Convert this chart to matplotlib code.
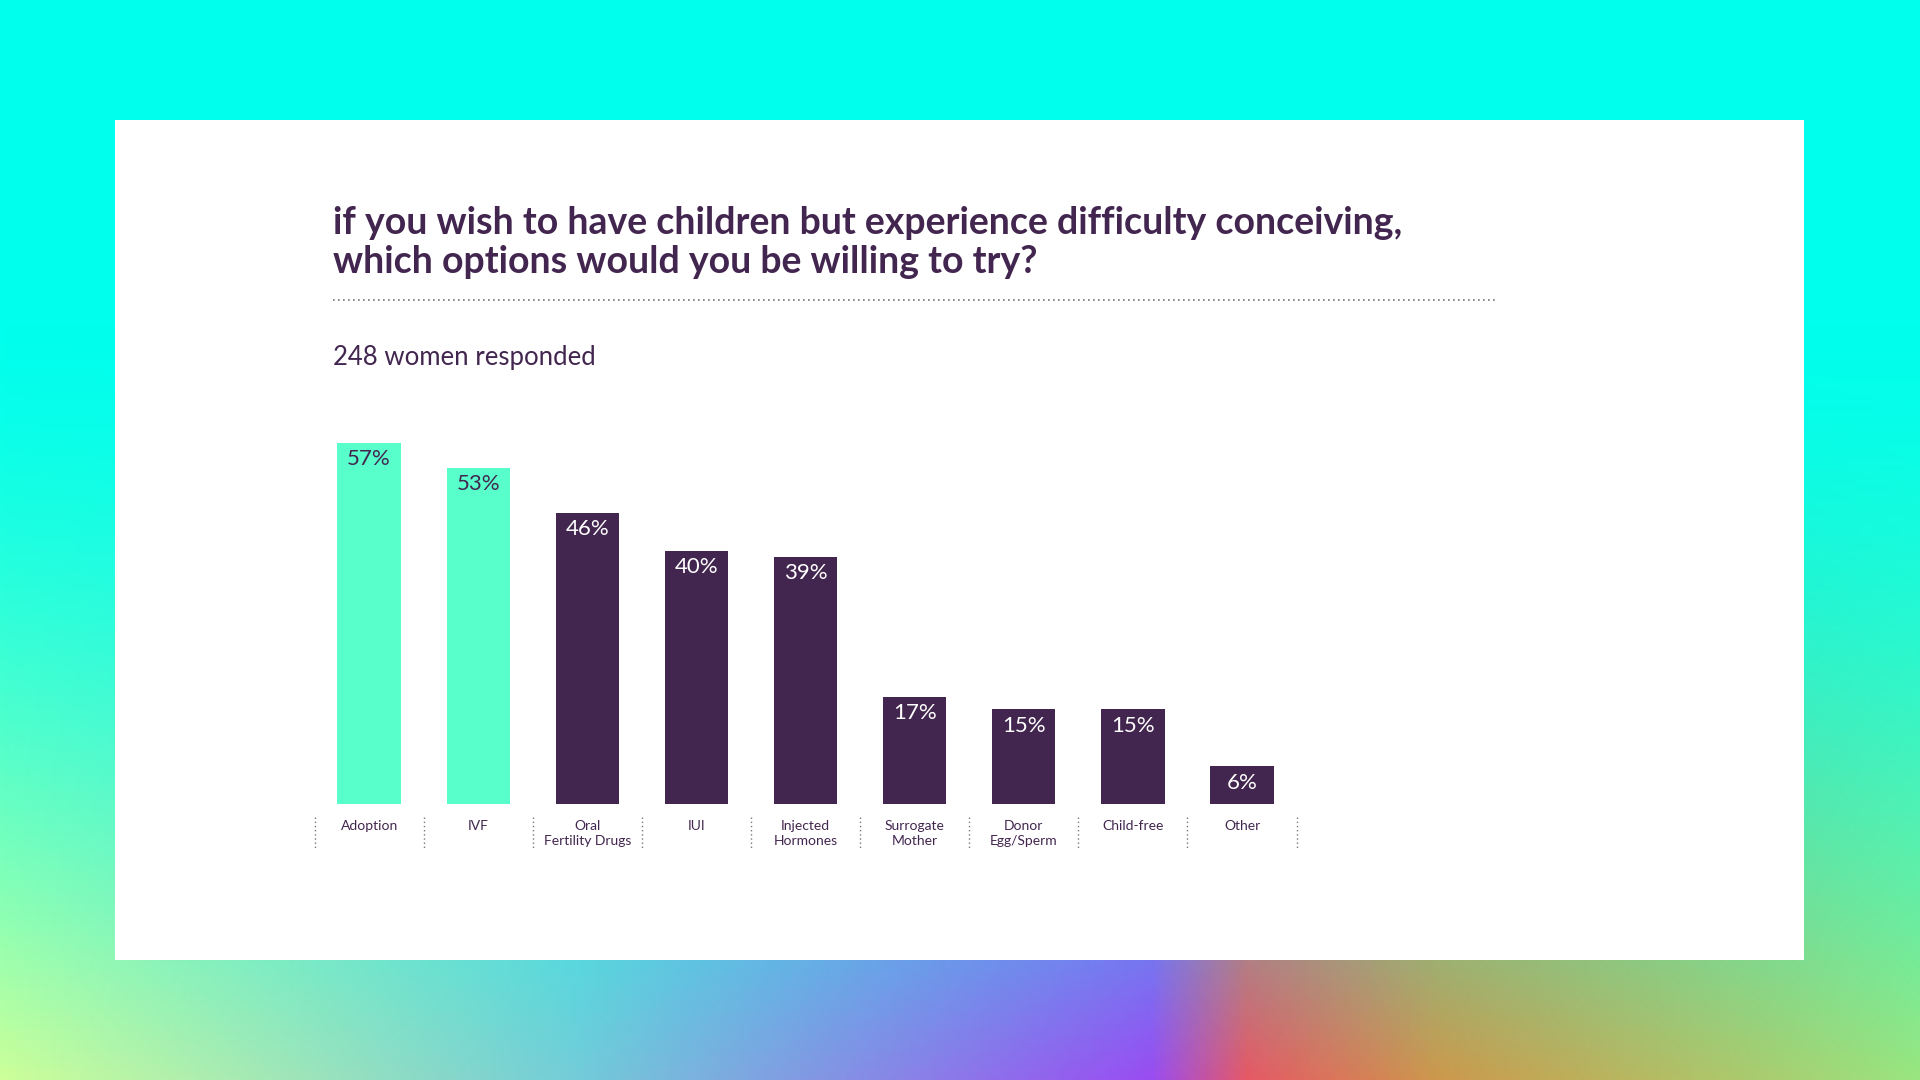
import numpy as np
import matplotlib.pyplot as plt
from matplotlib.patches import Rectangle

categories = ["Adoption", "IVF", "Oral\nFertility Drugs", "IUI", "Injected\nHormones",
              "Surrogate\nMother", "Donor\nEgg/Sperm", "Child-free", "Other"]
values = [57, 53, 46, 40, 39, 17, 15, 15, 6]
highlight = [True, True, False, False, False, False, False, False, False]

TEAL = "#58FFCB"
PURPLE = "#42264F"

plt.rcParams['font.family'] = ['Lato', 'DejaVu Sans']

fig = plt.figure(figsize=(19.2, 10.8), dpi=100)

# gradient background
H, W = 216, 384
yy, xx = np.mgrid[0:H, 0:W] / np.array([H - 1, W - 1])[:, None, None]
top = np.array([0.0, 1.0, 0.93])
stops_x = [0.0, 0.3, 0.6, 0.65, 0.75, 1.0]
stops_c = [(0.8, 1.0, 0.6), (0.45, 0.8, 0.85), (0.6, 0.3, 0.95),
           (0.9, 0.35, 0.4), (0.8, 0.6, 0.3), (0.6, 0.9, 0.5)]
bottom = np.stack([np.interp(xx[0], stops_x, [c[k] for c in stops_c]) for k in range(3)], axis=-1)
t = np.clip((yy - 0.3) / 0.7, 0, 1) ** 1.5
bg = top * (1 - t[..., None]) + bottom[None, :, :] * t[..., None]
bgax = fig.add_axes([0, 0, 1, 1], zorder=0)
bgax.imshow(bg, aspect='auto', extent=[0, 1, 0, 1], origin='upper')
bgax.axis('off')

def fx(x):
    return x / 1568

def fy(y):
    return 1 - y / 882

panel = fig.add_axes([fx(94), fy(784), fx(1473) - fx(94), fy(98) - fy(784)], zorder=1)
panel.set_facecolor('white')
panel.set_xticks([])
panel.set_yticks([])
for sp in panel.spines.values():
    sp.set_visible(False)

fig.text(fx(272), fy(198), "if you wish to have children but experience difficulty conceiving,\nwhich options would you be willing to try?",
         fontsize=27, fontweight='bold', color=PURPLE, va='center', ha='left', linespacing=1.2, zorder=5)
fig.add_artist(plt.Line2D([fx(272), fx(1222)], [fy(245), fy(245)], transform=fig.transFigure,
                          color='#777777', lw=1.2, linestyle=(0, (1, 2)), zorder=5))
fig.text(fx(272), fy(292), "248 women responded", fontsize=18.5, color=PURPLE, va='center', ha='left', zorder=5)

ax = fig.add_axes([fx(256), fy(657), fx(1058) - fx(256), fy(346) - fy(657)], zorder=2)
ax.set_facecolor('none')
x = np.arange(len(categories))
colors = [TEAL if h else PURPLE for h in highlight]
ax.bar(x, values, width=0.58, color=colors)
for xi, v, h in zip(x, values, highlight):
    ax.text(xi, v - 1.0, f"{v}%", ha='center', va='top', fontsize=16,
            color=PURPLE if h else 'white')
ax.set_xlim(-0.51, 8.49)
ax.set_ylim(0, 60)
ax.axis('off')
for xi, lab in zip(x, categories):
    ax.text(xi, -2.4, lab, ha='center', va='top', fontsize=10, color=PURPLE, linespacing=1.3)
for s in np.arange(-0.5, 9, 1.0):
    ax.plot([s, s], [-2, -7], color='#777777', lw=1, linestyle=(0, (1, 2)), clip_on=False)

fig.savefig("out.png", dpi=100)
